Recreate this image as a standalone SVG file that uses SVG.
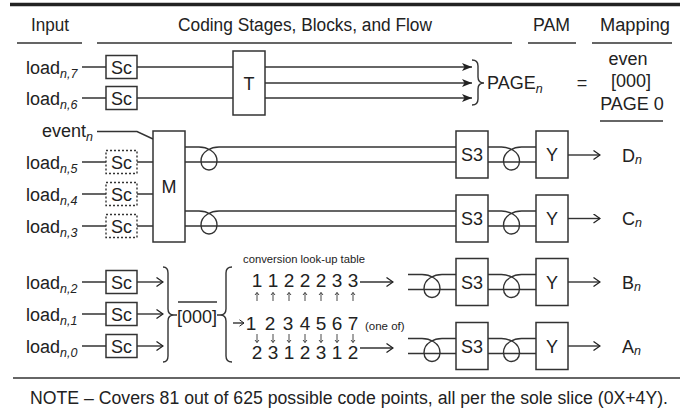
<svg xmlns="http://www.w3.org/2000/svg" width="683" height="412" viewBox="0 0 683 412">
<defs>
<style>
text{font-family:"Liberation Sans",Arial,sans-serif;fill:#222;}
.h{font-size:18px;}
.l{font-size:18px;}
.sub{font-size:12.5px;font-style:italic;}
.sm{font-size:11.5px;}
.dg{font-size:19px;text-anchor:middle;}
.c{text-anchor:middle;}
.ln{fill:none;stroke:#333;stroke-width:1.4;}
.box{fill:#fff;stroke:#333;stroke-width:1.5;}
.dbox{fill:#fff;stroke:#333;stroke-width:1.4;stroke-dasharray:2 2;}
.rule{stroke:#333;stroke-width:1.5;fill:none;}
.thin{fill:none;stroke:#333;stroke-width:0.9;}
</style>
<marker id="fa" viewBox="0 0 10 8" refX="10" refY="4" markerWidth="10" markerHeight="8" markerUnits="userSpaceOnUse" orient="auto"><path d="M0,0 L10,4 L0,8 L2.5,4 z" fill="#222"/></marker>
<marker id="oa" viewBox="0 0 8 10" refX="7.5" refY="5" markerWidth="8" markerHeight="10" markerUnits="userSpaceOnUse" orient="auto"><path d="M1,0.5 L7.5,5 L1,9.5" fill="none" stroke="#222" stroke-width="1.3"/></marker>
<marker id="oas" viewBox="0 0 6 8" refX="5.5" refY="4" markerWidth="6" markerHeight="8" markerUnits="userSpaceOnUse" orient="auto"><path d="M1,0.8 L5.5,4 L1,7.2" fill="none" stroke="#222" stroke-width="1"/></marker>
</defs>
<rect width="683" height="412" fill="#fff"/>

<g id="header">
<line x1="10" y1="4.5" x2="680" y2="4.5" stroke="#222" stroke-width="3.5"/>
<text class="h" x="31" y="31" textLength="38" lengthAdjust="spacingAndGlyphs">Input</text>
<text class="h" x="178" y="31" textLength="254" lengthAdjust="spacingAndGlyphs">Coding Stages, Blocks, and Flow</text>
<text class="h" x="533" y="31" textLength="37" lengthAdjust="spacingAndGlyphs">PAM</text>
<text class="h" x="600" y="31" textLength="70" lengthAdjust="spacingAndGlyphs">Mapping</text>
<path class="rule" d="M17 43H82M97 43H512M528 43H576M592 43H672"/>
</g>

<g id="labels">
<text class="l" x="26" y="74">load<tspan class="sub" dy="3.5">n,7</tspan></text>
<text class="l" x="26" y="105">load<tspan class="sub" dy="3.5">n,6</tspan></text>
<text class="l" x="42" y="137">event<tspan class="sub" dy="3.5">n</tspan></text>
<text class="l" x="26" y="169">load<tspan class="sub" dy="3.5">n,5</tspan></text>
<text class="l" x="26" y="201">load<tspan class="sub" dy="3.5">n,4</tspan></text>
<text class="l" x="26" y="233">load<tspan class="sub" dy="3.5">n,3</tspan></text>
<text class="l" x="26" y="289">load<tspan class="sub" dy="3.5">n,2</tspan></text>
<text class="l" x="26" y="321">load<tspan class="sub" dy="3.5">n,1</tspan></text>
<text class="l" x="26" y="353">load<tspan class="sub" dy="3.5">n,0</tspan></text>
</g>

<g id="connectors">
<path class="ln" d="M82 67H106M82 98H106M82 162H106M82 194H106M82 226H106M82 282H106M82 314H106M82 346H106"/>
<path class="ln" d="M137 67H233M137 98H233"/>
<path class="ln" d="M265 67H472" marker-end="url(#fa)"/>
<path class="ln" d="M265 83H472" marker-end="url(#fa)"/>
<path class="ln" d="M265 98H472" marker-end="url(#fa)"/>
<path class="ln" d="M472 60Q478 60 478 66V77Q478 83 484 83Q478 83 478 89V99Q478 105 472 105"/>
<path class="ln" d="M97 131.5H137L153 139"/>
<path class="ln" d="M137 162H153M137 194H153M137 226H153"/>
<path class="ln" d="M185 162H456M185 226H456"/>
<path class="ln" d="M185 147H199C206 147 217 151 217 161C217 167 213 170 209 170C205 170 201 167 201 161C201 151 212 147 219 147H456"/>
<path class="ln" d="M185 211H199C206 211 217 215 217 225C217 231 213 234 209 234C205 234 201 231 201 225C201 215 212 211 219 211H456"/>
<path class="ln" d="M488 162H536M488 226H536M488 289.5H536M488 353.5H536"/>
<path class="ln" d="M488 147H501.5C508.5 147 519.5 151 519.5 161C519.5 167 515.5 170 511.5 170C507.5 170 503.5 167 503.5 161C503.5 151 514.5 147 521.5 147H536"/>
<path class="ln" d="M488 211H501.5C508.5 211 519.5 215 519.5 225C519.5 231 515.5 234 511.5 234C507.5 234 503.5 231 503.5 225C503.5 215 514.5 211 521.5 211H536"/>
<path class="ln" d="M488 274.5H501.5C508.5 274.5 519.5 278.5 519.5 288.5C519.5 294.5 515.5 297.5 511.5 297.5C507.5 297.5 503.5 294.5 503.5 288.5C503.5 278.5 514.5 274.5 521.5 274.5H536"/>
<path class="ln" d="M488 338.5H501.5C508.5 338.5 519.5 342.5 519.5 352.5C519.5 358.5 515.5 361.5 511.5 361.5C507.5 361.5 503.5 358.5 503.5 352.5C503.5 342.5 514.5 338.5 521.5 338.5H536"/>
<path class="ln" d="M408 289.5H456M408 353.5H456"/>
<path class="ln" d="M408 274.5H422C429 274.5 440 278.5 440 288.5C440 294.5 436 297.5 432 297.5C428 297.5 424 294.5 424 288.5C424 278.5 435 274.5 442 274.5H456"/>
<path class="ln" d="M408 338.5H422C429 338.5 440 342.5 440 352.5C440 358.5 436 361.5 432 361.5C428 361.5 424 358.5 424 352.5C424 342.5 435 338.5 442 338.5H456"/>
<path class="ln" d="M568 155H600" marker-end="url(#oa)"/>
<path class="ln" d="M568 218.5H600" marker-end="url(#oa)"/>
<path class="ln" d="M568 282H600" marker-end="url(#oa)"/>
<path class="ln" d="M568 346H600" marker-end="url(#oa)"/>
<path class="ln" d="M137 282H163" marker-end="url(#oa)"/>
<path class="ln" d="M137 314H163" marker-end="url(#oa)"/>
<path class="ln" d="M137 346H163" marker-end="url(#oa)"/>
<path class="ln" d="M163 267Q168 267 168 273V309Q168 315 174 315Q168 315 168 321V356Q168 362 163 362M174 315H177"/>
<path class="ln" d="M217 315H220M232 267Q226 267 226 273V309Q226 315 220 315Q226 315 226 321V356Q226 362 232 362"/>
<path class="rule" d="M178 302H217" stroke-width="1.2"/>
<path class="ln" d="M233 323H244" stroke-width="1" marker-end="url(#oas)"/>
<path class="ln" d="M360 282H393" marker-end="url(#oa)"/>
<path class="ln" d="M360 348H393" marker-end="url(#oa)"/>
<path class="thin" d="M257 301V292.5M255 295L257 292.5L259 295M273 301V292.5M271 295L273 292.5L275 295M289 301V292.5M287 295L289 292.5L291 295M305 301V292.5M303 295L305 292.5L307 295M321 301V292.5M319 295L321 292.5L323 295M337 301V292.5M335 295L337 292.5L339 295M353 301V292.5M351 295L353 292.5L355 295"/>
<path class="thin" d="M257 334V342.5M255 340L257 342.5L259 340M273 334V342.5M271 340L273 342.5L275 340M289 334V342.5M287 340L289 342.5L291 340M305 334V342.5M303 340L305 342.5L307 340M321 334V342.5M319 340L321 342.5L323 340M337 334V342.5M335 340L337 342.5L339 340M353 334V342.5M351 340L353 342.5L355 340"/>
</g>

<g id="sc7"><rect class="box" x="106" y="55.5" width="31" height="23"/><text class="l c" x="121.5" y="73.5">Sc</text></g>
<g id="sc6"><rect class="box" x="106" y="86.5" width="31" height="23"/><text class="l c" x="121.5" y="104.5">Sc</text></g>
<g id="sc5"><rect class="dbox" x="106" y="150.5" width="31" height="23"/><text class="l c" x="121.5" y="168.5">Sc</text></g>
<g id="sc4"><rect class="dbox" x="106" y="182.5" width="31" height="23"/><text class="l c" x="121.5" y="200.5">Sc</text></g>
<g id="sc3"><rect class="dbox" x="106" y="214.5" width="31" height="23"/><text class="l c" x="121.5" y="232.5">Sc</text></g>
<g id="sc2"><rect class="box" x="106" y="270.5" width="31" height="23"/><text class="l c" x="121.5" y="288.5">Sc</text></g>
<g id="sc1"><rect class="box" x="106" y="302.5" width="31" height="23"/><text class="l c" x="121.5" y="320.5">Sc</text></g>
<g id="sc0"><rect class="box" x="106" y="334.5" width="31" height="23"/><text class="l c" x="121.5" y="352.5">Sc</text></g>
<g id="T"><rect class="box" x="233" y="51" width="32" height="64"/><text class="l c" x="249" y="89.5">T</text></g>
<g id="M"><rect class="box" x="153" y="131" width="32" height="111"/><text class="l c" x="169" y="193">M</text></g>

<g id="page"><text class="l" x="487" y="89">PAGE<tspan class="sub" dy="3.5">n</tspan></text><text class="l c" x="582" y="89">=</text></g>
<g id="mapping">
<text class="l c" x="628" y="65">even</text>
<text class="l c" x="631" y="87">[000]</text>
<text class="l c" x="632" y="110">PAGE 0</text>
<path class="rule" d="M600 121H663"/>
</g>

<g id="s3d"><rect class="box" x="456" y="131" width="32" height="47"/><text class="l c" x="472" y="161">S3</text></g>
<g id="s3c"><rect class="box" x="456" y="195" width="32" height="47"/><text class="l c" x="472" y="225">S3</text></g>
<g id="s3b"><rect class="box" x="456" y="258.5" width="32" height="47"/><text class="l c" x="472" y="288.5">S3</text></g>
<g id="s3a"><rect class="box" x="456" y="322.5" width="32" height="47"/><text class="l c" x="472" y="352.5">S3</text></g>
<g id="yd"><rect class="box" x="536" y="131" width="32" height="47"/><text class="l c" x="552" y="161">Y</text></g>
<g id="yc"><rect class="box" x="536" y="195" width="32" height="47"/><text class="l c" x="552" y="225">Y</text></g>
<g id="yb"><rect class="box" x="536" y="258.5" width="32" height="47"/><text class="l c" x="552" y="288.5">Y</text></g>
<g id="ya"><rect class="box" x="536" y="322.5" width="32" height="47"/><text class="l c" x="552" y="352.5">Y</text></g>
<g id="outs">
<text class="l" x="622" y="161.5">D<tspan class="sub" dy="2">n</tspan></text>
<text class="l" x="622" y="225">C<tspan class="sub" dy="2">n</tspan></text>
<text class="l" x="622" y="288.5">B<tspan class="sub" dy="2">n</tspan></text>
<text class="l" x="622" y="352.5">A<tspan class="sub" dy="2">n</tspan></text>
</g>

<g id="agg">
<text class="l" x="177" y="323">[000]</text>
</g>

<g id="table">
<text class="sm" x="243" y="263" textLength="122" lengthAdjust="spacingAndGlyphs">conversion look-up table</text>
<text class="dg" x="257 273 289 305 321 337 353" y="286.5">1122233</text>
<text class="dg" x="251 270 288 305 321 337 353" y="330">1234567</text>
<text class="sm" x="365" y="330">(one of)</text>
<text class="dg" x="257 273 289 305 321 337 353" y="359">2312312</text>
</g>

<g id="note">
<line x1="13" y1="378" x2="680" y2="378" stroke="#333" stroke-width="1.5"/>
<text class="l" x="30" y="404" textLength="638" lengthAdjust="spacingAndGlyphs">NOTE – Covers 81 out of 625 possible code points, all per the sole slice (0X+4Y).</text>
</g>
</svg>
